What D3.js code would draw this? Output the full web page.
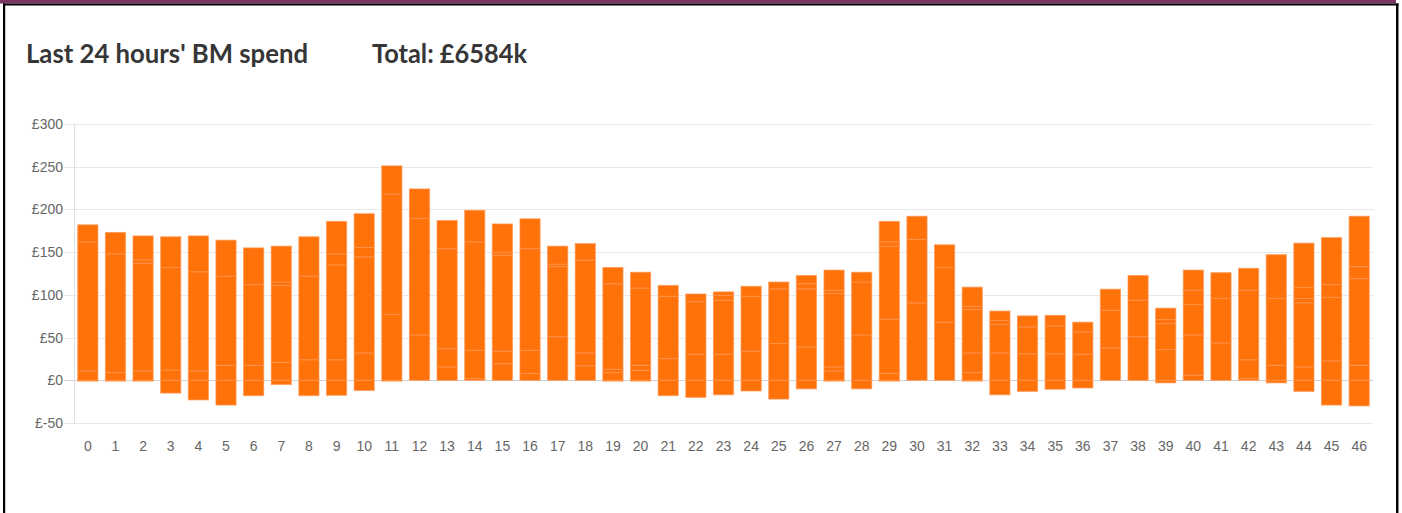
<!DOCTYPE html>
<html>
<head>
<meta charset="utf-8">
<script src="https://cdn.jsdelivr.net/npm/d3@7"></script>
<style>
  body { margin: 0; background: #fff; }
  svg { display: block; }
</style>
</head>
<body>
<div id="chart"></div>
<script>
// settlement periods, last 24 hours
var periods = d3.range(47);

// stacked spend components per period (£k), bottom to top
var segA = [11, 9, 11, 12, 11, 17.5, 17.5, 21, 24, 24, 32, 77, 53, 15.6, 2, 19.5, 8, 51, 17, 9, 11.7, 25.4, 30.5, 30.5, 34, 43, 39, 11, 53, 8, 90.6, 68, 9, 32, 31, 31, 30.5, 38, 51, 36, 6, 43.7, 2, 17.6, 15.6, 22.7, 17.6];
var segB = [151, 139, 126, 120, 116, 104.5, 94.5, 90, 98, 111, 112.5, 141, 136.5, 21.4, 33, 14.5, 27, 82, 15, 4, 5.9, 73, 61.5, 63.2, 64.4, 64, 68, 4.6, 62, 63.5, 74.4, 64, 23, 33.6, 31.5, 32.7, 26.1, 44, 42.7, 30.4, 47, 52, 22, 78.1, 75, 74.3, 101.4];
var segC = [0, 0, 4, 0, 0, 0, 0, 4, 0, 13, 11, 0, 0, 117, 127, 112.5, 119, 3, 108.6, 100, 90.4, 0, 0, 5.9, 0, 0, 6, 86, 0, 85.5, 0, 0, 51, 4.4, 0, 0, 0, 0, 0, 4.6, 35.7, 0, 81.5, 0, 5.1, 15, 14];
var segD = [0, 0, 0, 0, 0, 0, 0, 0, 0, 0, 0, 0, 0, 0, 0, 3.5, 0, 0, 0, 0, 0, 0, 0, 0, 0, 0, 0, 3.9, 0, 5, 0, 0, 3.7, 0, 0, 0, 0, 0, 0, 0, 16.8, 0, 0, 0, 12.9, 0, 0];
var segE = [20, 25, 28, 36, 42, 42, 43, 42, 46, 38, 39.5, 33, 34.5, 33, 37, 33, 35, 21, 19.4, 19, 18.5, 12.6, 9, 3.9, 11.6, 8, 9.6, 23.5, 11.5, 24, 27, 26.6, 22.3, 11, 12.9, 12.3, 11.4, 24.6, 28.9, 13.4, 23.5, 30.3, 25.5, 51.3, 51.9, 55, 59];
var segNeg = [-1, -1, -1, -15, -23, -29, -18, -5, -18, -17.6, -12, -1, 0, 0, 0, 0, 0, 0, 0, -1, -1, -18, -20, -17, -12.5, -22, -10, -1, -10, -1, 0, 0, -1, -17, -13, -10.5, -9, 0, 0, -3, 0, 0, 0, -3, -13, -29, -30];

var yTicks = [-50, 0, 50, 100, 150, 200, 250, 300];
var titleText = "Last 24 hours' BM spend";
var totalText = "Total: £6584k";

var W = 1402, H = 513;
var svg = d3.select("#chart").append("svg").attr("width", W).attr("height", H);

// frame
svg.append("rect").attr("x", 0).attr("y", 0).attr("width", 1396).attr("height", 3.5).attr("fill", "#7b3462");
svg.append("rect").attr("x", 3).attr("y", 3.5).attr("width", 1395.5).attr("height", 2).attr("fill", "#000");
svg.append("rect").attr("x", 3).attr("y", 3.5).attr("width", 2.2).attr("height", H).attr("fill", "#000");
svg.append("rect").attr("x", 1396).attr("y", 3.5).attr("width", 2.5).attr("height", H).attr("fill", "#000");

// titles
svg.append("text").attr("x", 26).attr("y", 63)
  .attr("font-family", "Lato").attr("font-weight", 700).attr("font-size", 27)
  .attr("fill", "#363636").attr("textLength", 282).attr("lengthAdjust", "spacingAndGlyphs")
  .text(titleText);
svg.append("text").attr("x", 372).attr("y", 63)
  .attr("font-family", "Lato").attr("font-weight", 700).attr("font-size", 27)
  .attr("fill", "#363636").attr("textLength", 155).attr("lengthAdjust", "spacingAndGlyphs")
  .text(totalText);

var plotL = 74, plotR = 1373, plotT = 124, plotB = 423;

var x = d3.scaleBand().domain(periods).range([plotL, plotR]).paddingInner(0.27).paddingOuter(0.135);
var y = d3.scaleLinear().domain([-50, 300]).range([plotB, plotT]);

// grid
var grid = svg.append("g");
grid.selectAll("line").data(yTicks).join("line")
  .attr("x1", plotL - 10).attr("x2", plotR)
  .attr("y1", function(d){ return Math.round(y(d)) + 0.5; })
  .attr("y2", function(d){ return Math.round(y(d)) + 0.5; })
  .attr("stroke", function(d){ return d === 0 ? "#d2d2d2" : "#e9e9e9"; })
  .attr("stroke-width", 1);
grid.append("line").attr("x1", plotL + 0.5).attr("x2", plotL + 0.5).attr("y1", plotT).attr("y2", plotB)
  .attr("stroke", "#e0e0e0");

// y labels
var yAxis = d3.axisLeft(y).tickValues(yTicks).tickSize(0).tickPadding(11)
  .tickFormat(function(d){ return "£" + d; });
var gy = svg.append("g").attr("transform", "translate(" + plotL + ",0)").call(yAxis);
gy.select(".domain").remove();
gy.selectAll("text").attr("font-family", "Liberation Sans, Arial, sans-serif").attr("font-size", 14).attr("fill", "#666");

// x labels
var xAxis = d3.axisBottom(x).tickSize(0).tickPadding(18);
var gx = svg.append("g").attr("transform", "translate(0," + plotB + ")").call(xAxis);
gx.select(".domain").remove();
gx.selectAll("text").attr("font-family", "Liberation Sans, Arial, sans-serif").attr("font-size", 14).attr("fill", "#666");

// stacked bars
var rows = periods.map(function(p, i){
  return { p: p, a: segA[i], b: segB[i], c: segC[i], d: segD[i], e: segE[i], n: segNeg[i] };
});
var stack = d3.stack().keys(["n", "a", "b", "c", "d", "e"]).offset(d3.stackOffsetDiverging);
var layers = stack(rows);

var bars = svg.append("g");
layers.forEach(function(layer){
  bars.selectAll(null).data(layer.filter(function(s){ return s[1] !== s[0]; })).join("rect")
    .attr("x", function(s){ return x(s.data.p); })
    .attr("width", x.bandwidth())
    .attr("y", function(s){ return y(Math.max(s[0], s[1])); })
    .attr("height", function(s){ return Math.abs(y(s[0]) - y(s[1])); })
    .attr("fill", "#ff6c00")
    .attr("fill-opacity", 0.96)
    .attr("stroke", "#ff9550")
    .attr("stroke-opacity", 0.7)
    .attr("stroke-width", 1);
});
</script>
</body>
</html>
